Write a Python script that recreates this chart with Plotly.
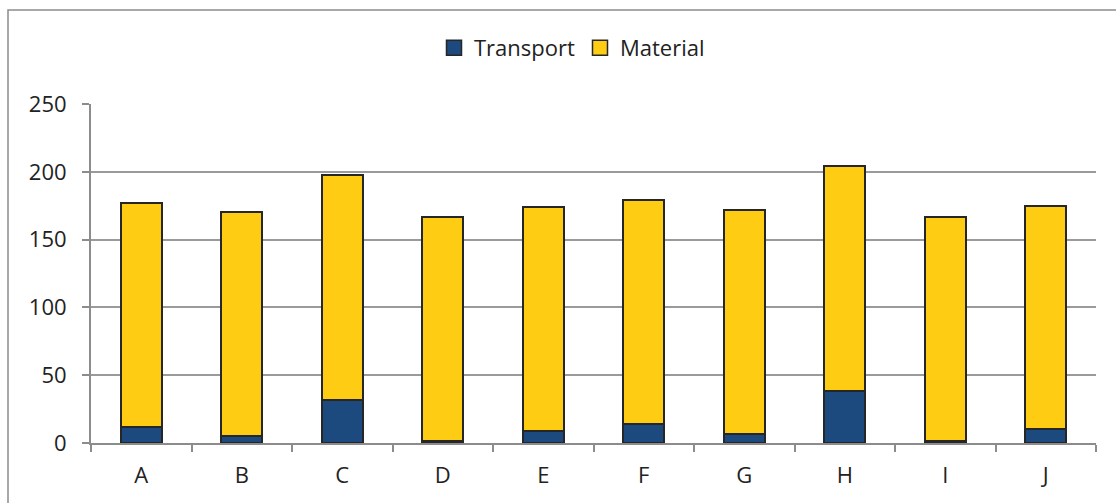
import plotly.graph_objects as go

categories = ["A", "B", "C", "D", "E", "F", "G", "H", "I", "J"]
transport = [11.5, 5, 32, 1.5, 9, 14, 6.5, 38.5, 1.5, 10]
material = [165.5, 165.5, 165.5, 165, 165, 165, 165, 165.5, 165.5, 165]
y_ticks = [0, 50, 100, 150, 200, 250]

W, H = 1116, 503
L, R, T, B = 91, 20, 104, 60
pw, ph = W - L - R, H - T - B

FONT = "Open Sans"
GRID = "#9a9a9a"
EDGE = "#262626"
BLUE = "#1C4A7E"
GOLD = "#FFCC14"

fig = go.Figure()
fig.add_trace(go.Bar(
    name="Transport", x=categories, y=transport, showlegend=False,
    marker=dict(color=BLUE, line=dict(color=EDGE, width=2)),
))
fig.add_trace(go.Bar(
    name="Material", x=categories, y=material, showlegend=False,
    marker=dict(color=GOLD, line=dict(color=EDGE, width=2)),
))

# legend entries with larger square swatches
for name, color in [("Transport", BLUE), ("Material", GOLD)]:
    fig.add_trace(go.Scatter(
        name=name, x=[None], y=[None], mode="markers",
        marker=dict(symbol="square", size=15, color=color,
                    line=dict(color=EDGE, width=1.5)),
    ))

# outer chart frame
fig.add_shape(
    type="rect", xref="paper", yref="paper", layer="below",
    x0=(8 - L) / pw, x1=1.1, y0=-0.5, y1=1 + (T - 10) / ph,
    line=dict(color="#8c8c8c", width=1.5), fillcolor="rgba(0,0,0,0)",
)

fig.update_layout(
    width=W, height=H,
    margin=dict(l=L, r=R, t=T, b=B),
    barmode="stack", bargap=0.59,
    paper_bgcolor="white", plot_bgcolor="white",
    font=dict(family=FONT, size=22, color="#222222"),
    showlegend=True,
    legend=dict(
        orientation="h", x=(572 - L) / pw, y=1 + (T - 48) / ph,
        xanchor="center", yanchor="middle",
        font=dict(size=22), itemwidth=30, traceorder="normal",
    ),
    xaxis=dict(
        type="category", showgrid=False, showline=True,
        linecolor="#8c8c8c", linewidth=2,
        ticks="outside", ticklen=7, tickwidth=2, tickcolor="#8c8c8c",
        tickson="boundaries", ticklabelstandoff=12,
    ),
    yaxis=dict(
        range=[0, 250], tickvals=y_ticks, showgrid=True,
        gridcolor=GRID, gridwidth=2, zeroline=False,
        showline=True, linecolor="#8c8c8c", linewidth=2,
        ticks="outside", ticklen=7, tickwidth=2, tickcolor="#8c8c8c",
        ticklabelstandoff=11,
    ),
)

fig.write_html("out.html")
